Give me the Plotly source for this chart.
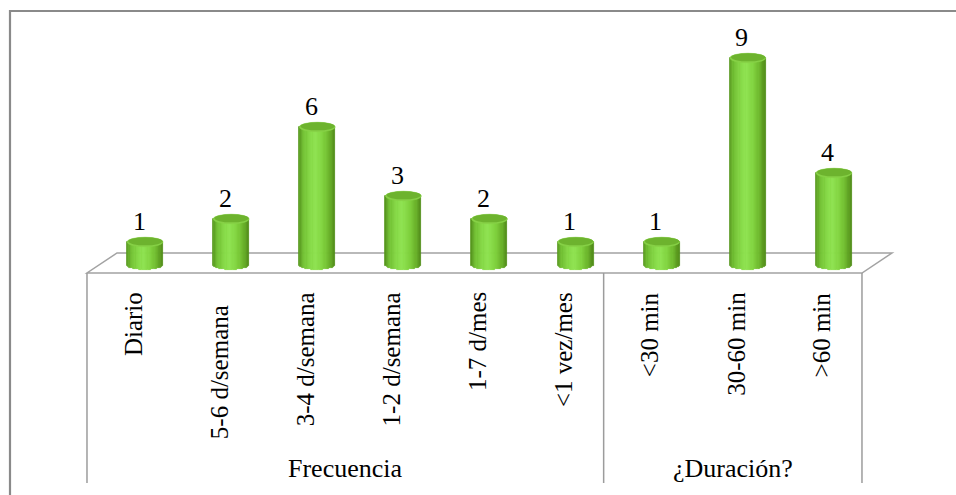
import numpy as np
import plotly.graph_objects as go

# ---- data -------------------------------------------------------------
categories = ["Diario", "5-6 d/semana", "3-4 d/semana", "1-2 d/semana",
              "1-7 d/mes", "<1 vez/mes", "<30 min", "30-60 min", ">60 min"]
values = [1, 2, 6, 3, 2, 1, 1, 9, 4]
groups = ["Frecuencia", "¿Duración?"]
group_sizes = [6, 3]

# ---- canvas geometry (pixels -> data units) ---------------------------
W, H = 956, 495
PX_PER_CAT = 86.11      # horizontal pixels per category slot
CAT0_PX = 130.05        # pixel x of the first category (front edge centre)
PX_PER_UNIT = 23.0      # vertical pixels per value unit
ZERO_PX = 265.0         # pixel y of value 0 (cylinder base centre)


def xd(px):
    return (px - CAT0_PX) / PX_PER_CAT


def yd(py):
    return (ZERO_PX - py) / PX_PER_UNIT


def esc(s):
    return s.replace("&", "&amp;").replace("<", "&lt;").replace(">", "&gt;")


FONT = "Liberation Serif, Times New Roman, serif"
LINE_GREY = "#a3a3a3"

n_cat = len(categories)
depth_shift = 15 / PX_PER_CAT           # cylinders sit mid-depth on the floor
centers = [i + depth_shift for i in range(n_cat)]
half_w = 18 / PX_PER_CAT                 # cylinder radius (x, data units)
ry = 4.8 / PX_PER_UNIT                   # ellipse half-height (y, data units)

# ---- cylinder body shading across its width ---------------------------
stops = [(-1.0, (84, 146, 28)), (-0.75, (112, 190, 50)), (-0.35, (133, 216, 70)),
         (-0.05, (143, 226, 80)), (0.35, (128, 210, 62)), (0.75, (104, 176, 40)),
         (1.0, (80, 138, 24))]


def shade(t):
    for (t0, c0), (t1, c1) in zip(stops[:-1], stops[1:]):
        if t0 <= t <= t1:
            f = (t - t0) / (t1 - t0)
            r, g, b = (round(a + (b_ - a) * f) for a, b_ in zip(c0, c1))
            return f"rgb({r},{g},{b})"
    return "rgb(80,138,24)"


fig = go.Figure()

n_strips = 30
edges = np.linspace(-1, 1, n_strips + 1)
for k in range(n_strips):
    tc = (edges[k] + edges[k + 1]) / 2
    col = shade(tc)
    base = -ry * np.sqrt(max(0.0, 1 - tc ** 2))
    fig.add_trace(go.Bar(
        x=[c + tc * half_w for c in centers],
        y=[v - base for v in values],
        base=[base] * n_cat,
        width=(edges[k + 1] - edges[k]) * half_w,
        marker=dict(color=col, line=dict(color=col, width=0.8)),
        hoverinfo="skip", showlegend=False,
    ))

shapes = []

# top faces of the cylinders
for c, v in zip(centers, values):
    shapes.append(dict(type="circle", xref="x", yref="y",
                       x0=c - half_w, x1=c + half_w, y0=v - ry, y1=v + ry,
                       fillcolor="#86d046", line=dict(color="#86d046", width=0.5)))
    shapes.append(dict(type="circle", xref="x", yref="y",
                       x0=c - half_w * 0.93, x1=c + half_w * 0.97,
                       y0=v - ry * 0.7, y1=v + ry * 0.98,
                       fillcolor="#6db32e", line=dict(width=0)))

# floor parallelogram
fx0, fx1 = -0.5, n_cat - 0.5
fy_front, fy_back = yd(273), yd(253)
ddx = 30 / PX_PER_CAT
floor_path = (f"M {fx0},{fy_front} L {fx1},{fy_front} L {fx1 + ddx},{fy_back} "
              f"L {fx0 + ddx},{fy_back} Z")
shapes.append(dict(type="path", xref="x", yref="y", path=floor_path,
                   line=dict(color=LINE_GREY, width=1.5), layer="below"))

# category-axis dividers
div_positions = [fx0]
acc = 0
for g in group_sizes:
    acc += g
    div_positions.append(acc - 0.5)
for xp in div_positions:
    shapes.append(dict(type="line", xref="x", yref="y", x0=xp, x1=xp,
                       y0=fy_front, y1=yd(483),
                       line=dict(color="#9c9c9c", width=1.5), layer="below"))

# outer chart frame
shapes.append(dict(type="rect", xref="paper", yref="paper",
                   x0=10 / W, x1=1.02, y0=-0.02, y1=1 - 11 / H,
                   line=dict(color="#8a8a8a", width=2.2), layer="below"))

annotations = []

# value labels above each cylinder
for c, v in zip(centers, values):
    annotations.append(dict(x=c, y=v, xref="x", yref="y", text=str(v),
                            showarrow=False, yanchor="middle", xanchor="center",
                            yshift=21, xshift=-6,
                            font=dict(family=FONT, size=26, color="#000")))

# rotated category labels
label_nudge = {1: 13}
for i, cat in enumerate(categories):
    annotations.append(dict(x=xd(CAT0_PX + 3 + PX_PER_CAT * i),
                            y=yd(290 + label_nudge.get(i, 0)),
                            xref="x", yref="y", text=esc(cat), textangle=-90,
                            showarrow=False, xanchor="center", yanchor="top",
                            font=dict(family=FONT, size=25, color="#000")))

# group labels
start = 0
for g, n in zip(groups, group_sizes):
    mid = start + (n - 1) / 2
    annotations.append(dict(x=mid, y=yd(468), xref="x", yref="y", text=esc(g),
                            showarrow=False, xanchor="center", yanchor="middle",
                            font=dict(family=FONT, size=26, color="#000")))
    start += n

fig.update_layout(
    width=W, height=H,
    margin=dict(l=0, r=0, t=0, b=0),
    paper_bgcolor="white", plot_bgcolor="white",
    barmode="overlay", bargap=0,
    xaxis=dict(range=[xd(0), xd(W)], visible=False, fixedrange=True),
    yaxis=dict(range=[yd(H), yd(0)], visible=False, fixedrange=True),
    shapes=shapes, annotations=annotations,
    showlegend=False,
)

fig.write_html("out.html")
